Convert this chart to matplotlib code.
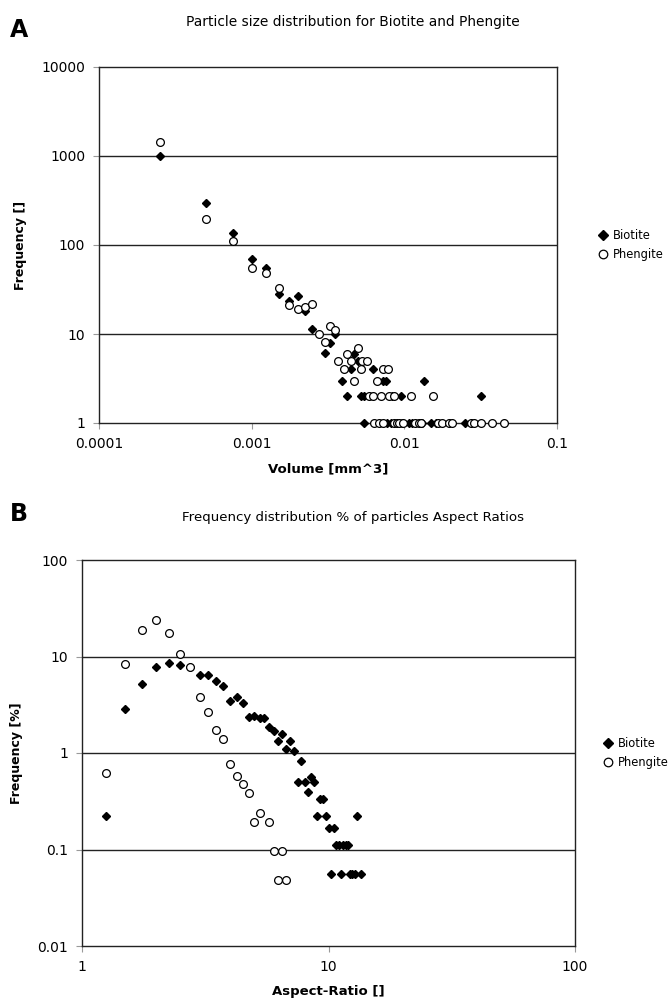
import matplotlib
matplotlib.use("Agg")
import matplotlib.pyplot as plt
import numpy as np

# Panel A: particle volume [mm^3] vs frequency
bio_vol = [0.00025, 0.0005, 0.00075, 0.001, 0.00125, 0.0015, 0.00175, 0.002, 0.00225,
           0.0025, 0.003, 0.00325, 0.0035, 0.0039, 0.0042, 0.0045, 0.0047, 0.005, 0.0052,
           0.00545, 0.0062, 0.0072, 0.0076, 0.0083, 0.0095, 0.0134, 0.032,
           0.00545, 0.0077, 0.0082, 0.0097, 0.0107, 0.0113, 0.013, 0.0149, 0.0161, 0.025]
bio_freq = [1000, 300, 135, 70, 55, 28, 23.5, 27, 18,
            11.3, 6.1, 8, 10, 3, 2, 4, 6, 5, 2,
            2, 4, 3, 3, 2, 2, 3, 2,
            1, 1, 1, 1, 1, 1, 1, 1, 1, 1]
phe_vol = [0.00025, 0.0005, 0.00075, 0.001, 0.00125, 0.0015, 0.00175, 0.002, 0.00225,
           0.0025, 0.00275, 0.00325, 0.0035, 0.003, 0.0037, 0.004, 0.0042, 0.0045, 0.0047,
           0.005, 0.0052, 0.0053, 0.0057, 0.0059, 0.0062, 0.0066, 0.007, 0.0073, 0.0078,
           0.0079, 0.0085, 0.011, 0.0155,
           0.0063, 0.0068, 0.0073, 0.0085, 0.009, 0.0092, 0.0098, 0.0117, 0.0124, 0.0128,
           0.0167, 0.0177, 0.0196, 0.0206, 0.0272, 0.0285, 0.0316, 0.0377, 0.0449]
phe_freq = [1450, 195, 111, 55, 48, 33, 21, 19.2, 20,
            21.5, 10, 12.3, 11, 8.2, 5, 4, 6, 5, 3,
            7, 4, 5, 5, 2, 2, 3, 2, 4, 4,
            2, 2, 2, 2,
            1, 1, 1, 1, 1, 1, 1, 1, 1, 1,
            1, 1, 1, 1, 1, 1, 1, 1, 1]

# Panel B: aspect ratio vs frequency [%]
bio_ar = [1.25, 1.5, 1.75, 2.0, 2.25, 2.5, 2.75, 3.0, 3.25, 3.5, 3.75, 4.0, 4.25, 4.5,
          4.75, 5.0, 5.25, 5.5, 5.75, 6.0, 6.25, 6.5, 6.75, 7.0, 7.25, 7.5, 7.75, 8.0,
          8.25, 8.5, 8.75, 9.0, 9.25, 9.5, 9.75, 10.0, 10.5, 10.75, 11.0, 11.5, 11.75,
          12.0, 13.0, 10.25, 11.25, 12.25, 12.5, 12.75, 13.5]
bio_pct = [0.222, 2.88, 5.15, 7.78, 8.63, 8.2, 7.83, 6.38, 6.5, 5.6, 4.98, 3.46, 3.8, 3.32,
           2.34, 2.44, 2.31, 2.31, 1.87, 1.68, 1.34, 1.57, 1.11, 1.34, 1.06, 0.5, 0.83, 0.5,
           0.39, 0.56, 0.5, 0.222, 0.333, 0.333, 0.222, 0.167, 0.167, 0.111, 0.111, 0.111, 0.111,
           0.111, 0.222, 0.0556, 0.0556, 0.0556, 0.0556, 0.0556, 0.0556]
phe_ar = [1.25, 1.5, 1.75, 2.0, 2.25, 2.5, 2.75, 3.0, 3.25, 3.5, 3.75, 4.0, 4.25, 4.5,
          4.75, 5.0, 5.25, 5.75, 6.0, 6.5, 6.25, 6.75]
phe_pct = [0.625, 8.4, 18.7, 23.7, 17.7, 10.5, 7.8, 3.8, 2.68, 1.72, 1.39, 0.764, 0.578, 0.481,
           0.382, 0.191, 0.239, 0.191, 0.0955, 0.0955, 0.0478, 0.0478]

fig = plt.figure(figsize=(6.72, 9.99), dpi=100)
W, H = 672, 999

def box(l, t, r, b):
    return [l / W, 1 - b / H, (r - l) / W, (b - t) / H]

def style(ax, xlim, ylim, yt, ylabs, xt, xlabs):
    ax.set_xscale('log')
    ax.set_yscale('log')
    ax.set_xlim(*xlim)
    ax.set_ylim(*ylim)
    ax.set_yticks(yt)
    ax.set_yticklabels(ylabs)
    ax.set_xticks(xt)
    ax.set_xticklabels(xlabs)
    ax.minorticks_off()
    for y in yt[1:-1]:
        ax.axhline(y, color='#222222', lw=1, zorder=1)
    for s in ax.spines.values():
        s.set_color('#222222')
        s.set_linewidth(1)
    ax.tick_params(axis='both', direction='out', length=4, width=0.8,
                   color='#999999', labelsize=10, pad=6)

def legend(ax, x, y):
    ax.legend(loc='center left', bbox_to_anchor=(x / W, 1 - y / H),
              bbox_transform=fig.transFigure, frameon=False, fontsize=8.3,
              borderaxespad=0, borderpad=0, handlelength=0.8, markerscale=1.1,
              handletextpad=0.45, labelspacing=0.6)

# panel A
axA = fig.add_axes(box(99, 67, 557, 423))
axA.plot(bio_vol, bio_freq, 'D', color='black', ms=4.3, label='Biotite',
         zorder=3, clip_on=False)
axA.plot(phe_vol, phe_freq, 'o', mfc='white', mec='black', mew=0.9, ms=5.6,
         label='Phengite', zorder=4, clip_on=False)
style(axA, (0.0001, 0.1), (1, 10000), [1, 10, 100, 1000, 10000],
      ['1', '10', '100', '1000', '10000'],
      [0.0001, 0.001, 0.01, 0.1], ['0.0001', '0.001', '0.01', '0.1'])
axA.set_xlabel('Volume [mm^3]', fontsize=9.5, fontweight='bold', labelpad=8)
axA.set_ylabel('Frequency []', fontsize=9, fontweight='bold', labelpad=10)
legend(axA, 598, 245)
fig.text(353 / W, 1 - 22 / H, 'Particle size distribution for Biotite and Phengite',
         ha='center', va='center', fontsize=9.9)
fig.text(10 / W, 1 - 30 / H, 'A', ha='left', va='center', fontsize=17, fontweight='bold')

# panel B
axB = fig.add_axes(box(82, 560, 575, 946))
axB.plot(bio_ar, bio_pct, 'D', color='black', ms=4.3, label='Biotite', zorder=3)
axB.plot(phe_ar, phe_pct, 'o', mfc='white', mec='black', mew=0.9, ms=5.6,
         label='Phengite', zorder=4)
style(axB, (1, 100), (0.01, 100), [0.01, 0.1, 1, 10, 100],
      ['0.01', '0.1', '1', '10', '100'],
      [1, 10, 100], ['1', '10', '100'])
axB.set_xlabel('Aspect-Ratio []', fontsize=9.5, fontweight='bold', labelpad=8)
axB.set_ylabel('Frequency [%]', fontsize=9, fontweight='bold', labelpad=10)
legend(axB, 603, 753)
fig.text(353 / W, 1 - 517 / H, 'Frequency distribution % of particles Aspect Ratios',
         ha='center', va='center', fontsize=9.6)
fig.text(10 / W, 1 - 514 / H, 'B', ha='left', va='center', fontsize=17, fontweight='bold')

fig.savefig('out.png', dpi=100)
